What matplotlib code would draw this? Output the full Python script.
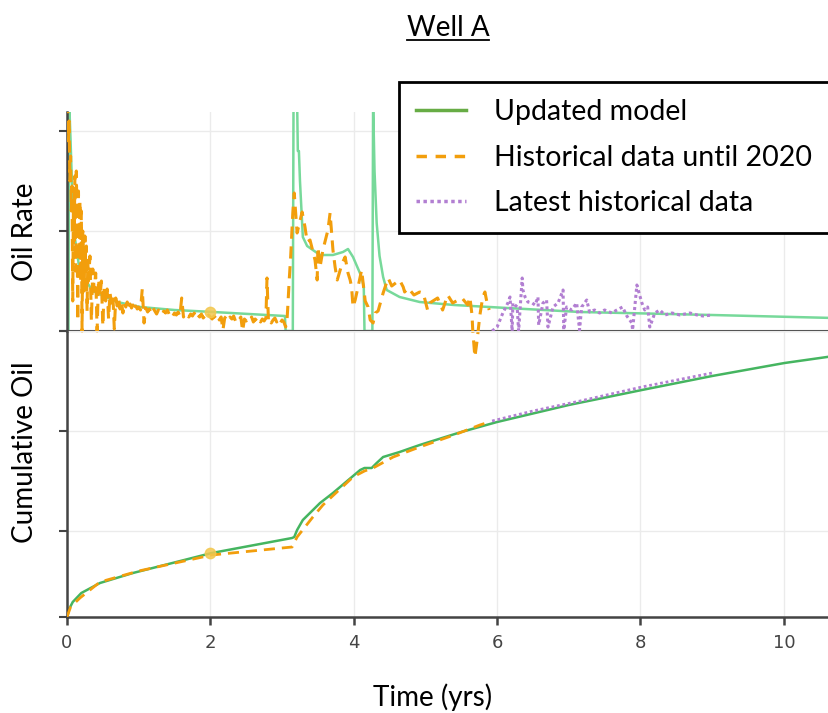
import matplotlib
matplotlib.use("Agg")
import matplotlib.pyplot as plt
from matplotlib.lines import Line2D
from matplotlib.patches import Rectangle

# model rate
model_t = [0.0, 0.02, 0.03, 0.05, 0.07, 0.11, 0.18, 0.36, 0.7, 1.02, 1.5, 2.04, 3.04, 3.05, 3.15, 3.16,
           3.21, 3.22, 3.235, 3.25, 3.29, 3.35, 3.43, 3.53, 3.71, 3.85, 3.92, 3.99, 4.11, 4.14, 4.15, 4.26,
           4.27, 4.29, 4.32, 4.36, 4.41, 4.46, 4.64, 4.92, 5.4, 6.14, 7.16, 9.0, 10.7]
model_rate = [0.0, 0.0, 2.3, 1.9, 1.45, 0.93, 0.59, 0.40, 0.29, 0.24, 0.21, 0.19, 0.15, 0.0, 0.0, 2.3,
              2.3, 1.8, 1.8, 1.5, 0.94, 0.85, 0.81, 0.76, 0.76, 0.79, 0.82, 0.74, 0.54, 0.44, 0.0, 0.0,
              2.3, 1.6, 1.08, 0.75, 0.54, 0.41, 0.34, 0.29, 0.26, 0.23, 0.19, 0.16, 0.13]

# historical rate until 2020, first production period
early_t = [0.01, 0.02, 0.03, 0.04, 0.05, 0.06, 0.07, 0.08, 0.09, 0.10, 0.11, 0.12, 0.13, 0.14, 0.15, 0.16,
           0.17, 0.18, 0.19, 0.20, 0.21, 0.22, 0.23, 0.24, 0.25, 0.26, 0.27, 0.28, 0.29,
           0.30, 0.32, 0.34, 0.36, 0.38, 0.40, 0.42, 0.44, 0.46, 0.48, 0.50, 0.52, 0.54, 0.56, 0.58, 0.60,
           0.62, 0.64, 0.66, 0.68, 0.70, 0.72, 0.74, 0.76, 0.78, 0.80, 0.82, 0.84, 0.86, 0.88, 0.90, 0.92,
           0.94, 0.96, 0.98, 1.00]
early_rate = [2.3, 1.9, 2.1, 1.5, 1.75, 1.2, 1.45, 0.3, 1.3, 0.9, 1.55, 0.6, 1.6, 1.1, 0.1, 1.4,
              0.7, 1.3, 0.5, 1.2, 0.0, 1.0, 0.8, 0.4, 0.95, 0.6, 0.85, 0.2, 0.7,
              0.50, 0.75, 0.10, 0.62, 0.40, 0.58, 0.00, 0.52, 0.35, 0.50, 0.05, 0.45, 0.30, 0.42, 0.12, 0.38,
              0.28, 0.36, 0.02, 0.33, 0.25, 0.32, 0.22, 0.30, 0.18, 0.28, 0.24, 0.29, 0.21, 0.27, 0.23, 0.26,
              0.20, 0.25, 0.22, 0.24]
mid_t = [1.025, 1.05, 1.075, 1.10, 1.125, 1.15, 1.175, 1.20, 1.225, 1.25, 1.275, 1.30, 1.325, 1.35, 1.375,
         1.40, 1.425, 1.45, 1.475, 1.50, 1.525, 1.55, 1.575, 1.60, 1.625, 1.65, 1.675, 1.70, 1.725, 1.75,
         1.775, 1.80, 1.825, 1.85, 1.875, 1.90, 1.925, 1.95, 1.975, 2.00, 2.025, 2.05, 2.075, 2.10, 2.125,
         2.15, 2.175, 2.20, 2.225, 2.25, 2.275, 2.30, 2.325, 2.35, 2.375, 2.40, 2.425, 2.45, 2.475, 2.50,
         2.525, 2.55, 2.575, 2.60, 2.625, 2.65, 2.675, 2.70, 2.725, 2.75, 2.775, 2.79, 2.81, 2.825, 2.85,
         2.875, 2.90, 2.925, 2.95, 2.975, 3.00, 3.025, 3.05]
mid_rate = [0.21, 0.42, 0.08, 0.23, 0.19, 0.22, 0.18, 0.23, 0.20, 0.17, 0.21, 0.19, 0.16, 0.20, 0.18,
            0.21, 0.17, 0.19, 0.15, 0.18, 0.16, 0.19, 0.15, 0.33, 0.14, 0.18, 0.16, 0.14, 0.17, 0.15,
            0.18, 0.13, 0.16, 0.14, 0.17, 0.13, 0.15, 0.12, 0.16, 0.14, 0.12, 0.15, 0.13, 0.16, 0.11,
            0.14, 0.01, 0.13, 0.15, 0.11, 0.14, 0.12, 0.15, 0.10, 0.13, 0.11, 0.14, 0.0, 0.12, 0.10,
            0.13, 0.11, 0.14, 0.09, 0.12, 0.10, 0.13, 0.09, 0.12, 0.10, 0.13, 0.53, 0.10, 0.12, 0.08,
            0.11, 0.13, 0.09, 0.12, 0.08, 0.11, 0.09, 0.04]
late_t = [3.07, 3.08, 3.10, 3.12, 3.15,
          3.17, 3.21, 3.28, 3.32, 3.35, 3.39, 3.46, 3.49, 3.50, 3.53, 3.57, 3.64, 3.67, 3.70, 3.71, 3.74,
          3.77, 3.84, 3.88, 3.92, 3.95, 3.97, 3.99, 4.02, 4.06, 4.11, 4.16, 4.20, 4.23, 4.27, 4.30, 4.34,
          4.41, 4.48, 4.53, 4.64, 4.69, 4.71, 4.76, 4.84, 4.92, 4.97, 5.03, 5.06, 5.17, 5.24, 5.31, 5.38,
          5.51, 5.59, 5.62, 5.65, 5.66, 5.69, 5.72, 5.76, 5.80, 5.83, 5.86, 5.89]
late_rate = [0.12, 0.24, 0.51, 0.74, 1.18,
             1.38, 0.98, 1.19, 1.04, 0.89, 0.91, 0.71, 0.51, 0.84, 0.64, 0.81, 1.01, 1.18, 0.91, 0.81, 0.64,
             0.51, 0.68, 0.74, 0.58, 0.51, 0.44, 0.24, 0.31, 0.44, 0.61, 0.3, 0.24, 0.11, 0.08, 0.18, 0.2,
             0.38, 0.53, 0.45, 0.51, 0.44, 0.39, 0.43, 0.36, 0.39, 0.38, 0.21, 0.28, 0.33, 0.21, 0.36, 0.28,
             0.33, 0.26, 0.34, 0.16, 0.01, -0.26, -0.1, 0.16, 0.34, 0.39, 0.28, 0.21]

# latest historical rate
latest_t = [5.93, 6.0, 6.04, 6.08, 6.15, 6.18, 6.21, 6.22, 6.28, 6.30, 6.35, 6.36, 6.39, 6.43, 6.49, 6.53,
            6.57, 6.58, 6.64, 6.69, 6.71, 6.78, 6.85, 6.92, 6.93, 6.97, 7.04, 7.11, 7.15, 7.18, 7.25, 7.29,
            7.36, 7.43, 7.50, 7.60, 7.67, 7.75, 7.81, 7.88, 7.89, 7.95, 7.98, 8.02, 8.06, 8.10, 8.13, 8.20,
            8.27, 8.34, 8.44, 8.55, 8.69, 8.79, 8.87, 9.01]
latest_rate = [0.0, 0.04, 0.11, 0.18, 0.28, 0.34, 0.0, 0.28, 0.24, 0.0, 0.53, 0.41, 0.34, 0.29, 0.28, 0.26,
               0.34, 0.06, 0.28, 0.31, 0.04, 0.24, 0.28, 0.41, 0.01, 0.24, 0.21, 0.28, 0.01, 0.24, 0.31, 0.19,
               0.21, 0.18, 0.21, 0.18, 0.21, 0.24, 0.15, 0.08, 0.01, 0.46, 0.38, 0.28, 0.21, 0.24, 0.04, 0.18,
               0.21, 0.16, 0.18, 0.16, 0.18, 0.16, 0.15, 0.16]

# cumulative oil
cum_t = [0.0, 0.01, 0.03, 0.08, 0.2, 0.46, 0.92, 2.02, 3.14, 3.17, 3.21, 3.29, 3.53, 3.71, 4.09, 4.15,
         4.25, 4.32, 4.41, 4.64, 4.92, 5.5, 6.0, 7.0, 8.02, 9.0, 10.01, 10.7]
cum_model = [0.0, 0.02, 0.08, 0.15, 0.24, 0.34, 0.44, 0.64, 0.79, 0.80, 0.87, 0.97, 1.14, 1.24, 1.47, 1.49,
             1.49, 1.54, 1.60, 1.65, 1.72, 1.85, 1.95, 2.12, 2.27, 2.41, 2.54, 2.61]
hist_cum_t = [0.0, 0.05, 0.18, 0.46, 1.0, 2.02, 3.14, 3.21, 3.43, 3.57, 3.99, 4.15, 4.27, 4.55, 4.92, 5.4,
              5.76, 5.89]
hist_cum = [0.0, 0.10, 0.19, 0.35, 0.46, 0.62, 0.70, 0.80, 1.00, 1.12, 1.40, 1.46, 1.49, 1.60, 1.70, 1.82,
            1.92, 1.95]
latest_cum_t = [5.93, 6.5, 7.16, 8.02, 9.0]
latest_cum = [1.96, 2.06, 2.16, 2.30, 2.44]

match_t = 2.0
match_rate = 0.19
match_cum = 0.64

hist_t = early_t + mid_t + late_t
hist_rate = early_rate + mid_rate + late_rate

W, H = 829, 713
plt.rcParams["font.family"] = ["Lato", "DejaVu Sans"]

fig = plt.figure(figsize=(W / 100, H / 100), dpi=100)
ax1 = fig.add_axes([67 / W, (H - 331) / H, (W - 67) / W, (331 - 112) / H])
ax2 = fig.add_axes([67 / W, (H - 617) / H, (W - 67) / W, (617 - 331) / H])

ax1.plot(model_t, model_rate, color="#77d99a", lw=1.8, zorder=2)
hl = ax1.plot(hist_t, hist_rate, color="#f29e0c", lw=2.2, dashes=(4, 2.5), zorder=3)[0]
clip = Rectangle((0, -0.15), 1, 1.15, transform=ax1.transAxes, visible=False)
ax1.add_patch(clip)
hl.set_clip_path(clip)
ax1.plot(latest_t, latest_rate, color="#b27fd2", lw=2.2, ls=(0, (1, 1)), zorder=3)
ax1.plot(match_t, match_rate, "o", color="#f3c850", ms=7.5, alpha=0.85, zorder=4)

ax2.plot(cum_t, cum_model, color="#45b560", lw=1.8, zorder=2)
ax2.plot(hist_cum_t, hist_cum, color="#f29e0c", lw=2, dashes=(4, 2.5), zorder=3)
ax2.plot(latest_cum_t, latest_cum, color="#b27fd2", lw=2, ls=(0, (1, 1)), zorder=3)
ax2.plot(match_t, match_cum, "o", color="#f3c850", ms=7.5, alpha=0.85, zorder=4)

for ax in (ax1, ax2):
    ax.set_xlim(0, 10.63)
    ax.set_xticks([0, 2, 4, 6, 8, 10])
    ax.grid(True, color="#ebebeb", lw=1)
    ax.set_axisbelow(True)
    ax.spines["top"].set_visible(False)
    ax.spines["right"].set_visible(False)
    ax.spines["left"].set_color("#444444")
    ax.spines["left"].set_linewidth(1.8)
    ax.spines["bottom"].set_color("#555555")
    ax.spines["bottom"].set_linewidth(1.5)
    ax.tick_params(axis="y", length=6, width=1.5, color="#444444", labelleft=False)
    ax.set_facecolor("none")

ax1.set_ylim(0, 2.19)
ax1.set_yticks([0, 1, 2])
ax1.tick_params(axis="x", length=0, labelbottom=False)

ax2.set_ylim(0, 2.86)
ax2.set_yticks([0, 0.86, 1.86, 2.86])
ax2.spines["bottom"].set_color("#444444")
ax2.spines["bottom"].set_linewidth(1.8)
ax2.tick_params(axis="x", length=6, width=1.8, color="#444444", labelcolor="#444444", labelsize=13, pad=6)
for lab in ax2.get_xticklabels():
    lab.set_fontfamily("DejaVu Sans")

fig.text(25 / W, 1 - 232 / H, "Oil Rate", rotation=90, ha="center", va="center", fontsize=20)
fig.text(25 / W, 1 - 452 / H, "Cumulative Oil", rotation=90, ha="center", va="center", fontsize=20)
fig.text(433 / W, 1 - 697 / H, "Time (yrs)", ha="center", va="center", fontsize=20)
title = fig.text(448 / W, 1 - 36 / H, "Well A", ha="center", va="baseline", fontsize=20)

handles = [Line2D([], [], color="#67ac45", lw=2.5),
           Line2D([], [], color="#f29e0c", lw=2.5, dashes=(3, 2.5)),
           Line2D([], [], color="#b27fd2", lw=2.5, ls=(0, (1, 1)))]
labels = ["Updated model", "Historical data until 2020", "Latest historical data"]
leg = fig.legend(handles, labels, loc="upper left", mode="expand", borderaxespad=0,
                 bbox_to_anchor=(399 / W, 1 - 233 / H, (W - 398) / W, (233 - 82) / H),
                 frameon=True, fancybox=False, edgecolor="black", framealpha=1, fontsize=20.5,
                 borderpad=0.6, handlelength=1.75, handletextpad=1.0, labelspacing=0.69)
leg.get_frame().set_linewidth(2)

fig.canvas.draw()
bb = title.get_window_extent()
fig.add_artist(Line2D([bb.x0 / W, bb.x1 / W], [1 - 40 / H, 1 - 40 / H], color="black", lw=1.3,
                      transform=fig.transFigure))

fig.savefig("out.png", dpi=100)
